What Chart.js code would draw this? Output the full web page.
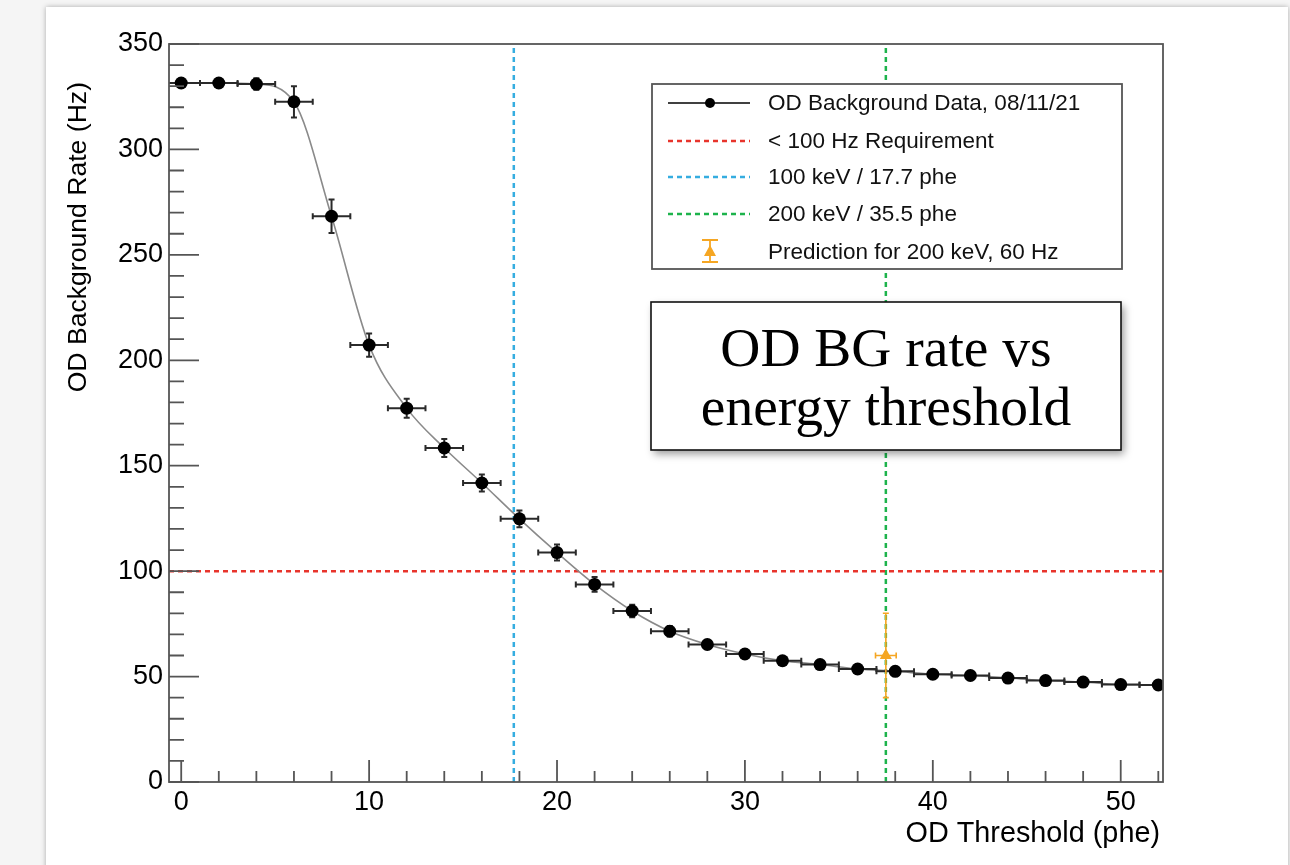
<!DOCTYPE html>
<html>
<head>
<meta charset="utf-8">
<script src="https://cdn.jsdelivr.net/npm/chart.js@4.4.1/dist/chart.umd.min.js"></script>
<style>
    html, body { margin: 0; padding: 0; width: 1290px; height: 865px; overflow: hidden; background: #f5f5f5; }
    #card { position: absolute; left: 46px; top: 7px; width: 1242px; height: 900px; background: #fff; box-shadow: 0 0 5px rgba(0, 0, 0, 0.3); }
    #chart { position: absolute; left: 0; top: 0; }
</style>
</head>
<body>
<div id="card"></div>
<canvas id="chart" width="1290" height="865"></canvas>
<script>
// data
const thresholds = [0, 2, 4, 6, 8, 10, 12, 14, 16, 18, 20, 22, 24, 26, 28, 30, 32, 34, 36, 38, 40, 42, 44, 46, 48, 50, 52];
const rates = [331.5, 331.5, 331.0, 322.6, 268.3, 207.2, 177.3, 158.4, 141.8, 124.8, 108.8, 93.7, 81.1, 71.5, 65.2, 60.7, 57.5, 55.7, 53.6, 52.5, 51.1, 50.5, 49.3, 48.1, 47.4, 46.2, 46.0];
const rateErrors = [1, 1, 2.7, 7.4, 7.9, 5.5, 4.5, 4.3, 4, 4, 3.8, 3.5, 3, 2.5, 2, 1.5, 1.2, 1.2, 1.2, 1.2, 1.2, 1.2, 1.2, 1.2, 1.2, 1.2, 1.2];
const thresholdErrors = [1, 1, 1, 1, 1, 1, 1, 1, 1, 1, 1, 1, 1, 1, 1, 1, 1, 1, 1, 1, 1, 1, 1, 1, 1, 1, 1];

const predictionX = [37.5];
const predictionY = [60];
const predictionXErr = [0.55];
const predictionYErr = [20];

const requirementRate = 100;
const threshold100keV = 17.7;
const threshold200keV = 37.5;

const xTicks = [0, 10, 20, 30, 40, 50];
const yTicks = [0, 50, 100, 150, 200, 250, 300, 350];
const xMin = -0.65, xMax = 52.25;
const yMin = 0, yMax = 350;

const xTitle = 'OD Threshold (phe)';
const yTitle = 'OD Background Rate (Hz)';
const legendLabels = [
    'OD Background Data, 08/11/21',
    '< 100 Hz Requirement',
    '100 keV / 17.7 phe',
    '200 keV / 35.5 phe',
    'Prediction for 200 keV, 60 Hz'
];
const noteLines = ['OD BG rate vs', 'energy threshold'];

const RED = '#e8342c';
const BLUE = '#35ade0';
const GREEN = '#1db34c';
const ORANGE = '#f5a623';
const SANS = '"Liberation Sans", Arial, Helvetica, sans-serif';
const SERIF = '"Liberation Serif", "Times New Roman", serif';

const toPoints = (xs, ys) => xs.map((x, i) => ({ x: x, y: ys[i] }));

const drawErrorBars = (chart, xs, ys, exs, eys, color, width, cap) => {
    const ctx = chart.ctx;
    const sx = chart.scales.x, sy = chart.scales.y;
    const area = chart.chartArea;
    ctx.save();
    ctx.beginPath();
    ctx.rect(area.left, area.top, area.right - area.left, area.bottom - area.top);
    ctx.clip();
    ctx.strokeStyle = color;
    ctx.lineWidth = width;
    xs.forEach((x, i) => {
        const px = sx.getPixelForValue(x);
        const py = sy.getPixelForValue(ys[i]);
        const xl = sx.getPixelForValue(x - exs[i]);
        const xr = sx.getPixelForValue(x + exs[i]);
        const yt = sy.getPixelForValue(ys[i] + eys[i]);
        const yb = sy.getPixelForValue(ys[i] - eys[i]);
        ctx.beginPath();
        ctx.moveTo(xl, py); ctx.lineTo(xr, py);
        ctx.moveTo(px, yt); ctx.lineTo(px, yb);
        ctx.moveTo(xl, py - cap); ctx.lineTo(xl, py + cap);
        ctx.moveTo(xr, py - cap); ctx.lineTo(xr, py + cap);
        ctx.moveTo(px - cap, yt); ctx.lineTo(px + cap, yt);
        ctx.moveTo(px - cap, yb); ctx.lineTo(px + cap, yb);
        ctx.stroke();
    });
    ctx.restore();
};

// error bars go under the markers
const errorBarPlugin = {
    id: 'errorBars',
    beforeDatasetDraw(chart, args) {
        if (args.meta.label === 'data') {
            drawErrorBars(chart, thresholds, rates, thresholdErrors, rateErrors, '#2a2a2a', 2, 3);
        }
        if (args.meta.label === 'prediction') {
            drawErrorBars(chart, predictionX, predictionY, predictionXErr, predictionYErr, ORANGE, 1.6, 3);
        }
    }
};

// ROOT style frame, ticks inside, titles, legend and note box
const framePlugin = {
    id: 'rootFrame',
    afterDraw(chart) {
        const ctx = chart.ctx;
        const area = chart.chartArea;
        const sx = chart.scales.x, sy = chart.scales.y;
        ctx.save();
        ctx.strokeStyle = '#555';
        ctx.lineWidth = 1.8;
        ctx.strokeRect(area.left, area.top, area.right - area.left, area.bottom - area.top);

        ctx.beginPath();
        for (let v = 0; v <= xMax; v += 2) {
            const px = sx.getPixelForValue(v);
            const len = v % 10 === 0 ? 22 : 11;
            ctx.moveTo(px, area.bottom);
            ctx.lineTo(px, area.bottom - len);
        }
        for (let v = 0; v <= yMax; v += 10) {
            const py = sy.getPixelForValue(v);
            const len = v % 50 === 0 ? 30 : 15;
            ctx.moveTo(area.left, py);
            ctx.lineTo(area.left + len, py);
        }
        ctx.stroke();

        // axis titles
        ctx.fillStyle = '#000';
        ctx.font = '28.8px ' + SANS;
        ctx.textAlign = 'right';
        ctx.textBaseline = 'alphabetic';
        ctx.fillText(xTitle, 1160, 842);
        ctx.save();
        ctx.translate(86, 82);
        ctx.rotate(-Math.PI / 2);
        ctx.font = '26.6px ' + SANS;
        ctx.fillText(yTitle, 0, 0);
        ctx.restore();

        // legend
        ctx.fillStyle = '#fff';
        ctx.fillRect(652, 84, 470, 185);
        ctx.strokeStyle = '#555';
        ctx.lineWidth = 1.8;
        ctx.strokeRect(652, 84, 470, 185);
        const rows = [103, 141, 177, 214, 252];
        ctx.lineWidth = 1.6;
        ctx.strokeStyle = '#000';
        ctx.beginPath();
        ctx.moveTo(668, rows[0]); ctx.lineTo(750, rows[0]);
        ctx.stroke();
        ctx.fillStyle = '#000';
        ctx.beginPath();
        ctx.arc(710, rows[0], 5, 0, Math.PI * 2);
        ctx.fill();
        [RED, BLUE, GREEN].forEach((c, i) => {
            ctx.strokeStyle = c;
            ctx.lineWidth = 2.5;
            ctx.setLineDash([5, 4]);
            ctx.beginPath();
            ctx.moveTo(668, rows[i + 1]); ctx.lineTo(750, rows[i + 1]);
            ctx.stroke();
        });
        ctx.setLineDash([]);
        ctx.strokeStyle = ORANGE;
        ctx.lineWidth = 1.8;
        ctx.beginPath();
        ctx.moveTo(710, rows[4] - 12); ctx.lineTo(710, rows[4] + 10);
        ctx.moveTo(702, rows[4] - 12); ctx.lineTo(718, rows[4] - 12);
        ctx.moveTo(702, rows[4] + 10); ctx.lineTo(718, rows[4] + 10);
        ctx.stroke();
        ctx.fillStyle = ORANGE;
        ctx.beginPath();
        ctx.moveTo(710, rows[4] - 7); ctx.lineTo(716, rows[4] + 4); ctx.lineTo(704, rows[4] + 4);
        ctx.closePath();
        ctx.fill();
        ctx.fillStyle = '#111';
        ctx.font = '22.5px ' + SANS;
        ctx.textAlign = 'left';
        ctx.textBaseline = 'middle';
        legendLabels.forEach((t, i) => ctx.fillText(t, 768, rows[i] + 1));

        // note box
        ctx.save();
        ctx.shadowColor = 'rgba(0, 0, 0, 0.4)';
        ctx.shadowBlur = 8;
        ctx.shadowOffsetX = 3;
        ctx.shadowOffsetY = 4;
        ctx.fillStyle = '#fff';
        ctx.fillRect(651, 302, 470, 148);
        ctx.restore();
        ctx.strokeStyle = '#111';
        ctx.lineWidth = 1.6;
        ctx.strokeRect(651, 302, 470, 148);
        ctx.fillStyle = '#000';
        ctx.font = '55.5px ' + SERIF;
        ctx.textAlign = 'center';
        ctx.textBaseline = 'alphabetic';
        ctx.fillText(noteLines[0], 886, 366);
        ctx.fillText(noteLines[1], 886, 425);
        ctx.restore();
    }
};

const refLine = (label, pts, color) => ({
    label: label,
    data: pts,
    showLine: true,
    borderColor: color,
    borderWidth: 2.5,
    borderDash: [5, 4],
    pointRadius: 0,
    order: 5
});

new Chart(document.getElementById('chart').getContext('2d'), {
    type: 'scatter',
    data: {
        datasets: [
            {
                label: 'fit',
                data: toPoints(thresholds, rates),
                showLine: true,
                cubicInterpolationMode: 'monotone',
                borderColor: '#8a8a8a',
                borderWidth: 1.6,
                pointRadius: 0,
                order: 4
            },
            {
                label: 'data',
                data: toPoints(thresholds, rates),
                pointRadius: 6.5,
                pointBackgroundColor: '#000',
                pointBorderWidth: 0,
                order: 1
            },
            {
                label: 'prediction',
                data: toPoints(predictionX, predictionY),
                pointStyle: 'triangle',
                pointRadius: 7,
                pointBackgroundColor: ORANGE,
                pointBorderWidth: 0,
                order: 0
            },
            refLine('requirement', [{ x: xMin, y: requirementRate }, { x: xMax, y: requirementRate }], RED),
            refLine('100 keV', [{ x: threshold100keV, y: yMin }, { x: threshold100keV, y: yMax }], BLUE),
            refLine('200 keV', [{ x: threshold200keV, y: yMin }, { x: threshold200keV, y: yMax }], GREEN)
        ]
    },
    options: {
        responsive: false,
        devicePixelRatio: 1,
        animation: false,
        layout: { padding: { left: 0, top: 44, right: 127, bottom: 0 } },
        plugins: {
            legend: { display: false },
            tooltip: { enabled: false }
        },
        scales: {
            x: {
                type: 'linear',
                min: xMin,
                max: xMax,
                grid: { display: false, drawTicks: false },
                border: { display: false },
                afterBuildTicks: (s) => { s.ticks = xTicks.map(v => ({ value: v })); },
                afterFit: (s) => { s.height = 83; },
                ticks: { padding: 4, color: '#000', font: { size: 27, family: SANS }, maxRotation: 0 }
            },
            y: {
                type: 'linear',
                min: yMin,
                max: yMax,
                grid: { display: false, drawTicks: false },
                border: { display: false },
                afterBuildTicks: (s) => { s.ticks = yTicks.map(v => ({ value: v })); },
                afterFit: (s) => { s.width = 169; },
                ticks: { padding: 6, color: '#000', font: { size: 27, family: SANS } }
            }
        }
    },
    plugins: [errorBarPlugin, framePlugin]
});
</script>
</body>
</html>
